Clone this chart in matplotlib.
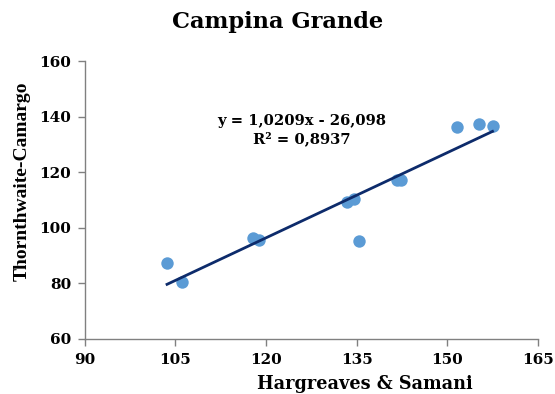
import matplotlib
matplotlib.use("Agg")
import matplotlib.pyplot as plt
import numpy as np

hs = [103.6, 106.1, 117.8, 118.8, 133.4, 134.5, 135.4, 141.7, 142.3, 151.6, 155.2, 157.5]
tc = [87.3, 80.5, 96.3, 95.6, 109.3, 110.2, 95.3, 117.2, 117.3, 136.3, 137.3, 136.6]
slope = 1.0209
intercept = -26.098
r2_text = "R² = 0,8937"
eq_text = "y = 1,0209x - 26,098"
xticks = [90, 105, 120, 135, 150, 165]
yticks = [60, 80, 100, 120, 140, 160]

plt.rcParams['font.family'] = ['DejaVu Serif']
plt.rcParams['font.weight'] = 'bold'

fig = plt.figure(figsize=(5.55, 3.94), dpi=100)
ax = fig.add_axes([0.153, 0.1396, 0.816, 0.7054])

ax.scatter(hs, tc, s=80, color='#5B9BD5', zorder=3, linewidths=0)
xl = np.array([min(hs), max(hs)])
ax.plot(xl, slope * xl + intercept, color='#0D2B6B', lw=2.0, zorder=4)

ax.set_xlim(90, 165)
ax.set_ylim(60, 160)
ax.set_xticks(xticks)
ax.set_yticks(yticks)
for lab in ax.get_xticklabels() + ax.get_yticklabels():
    lab.set_fontweight('bold')
    lab.set_fontsize(11)
ax.tick_params(direction='out', length=5, width=1, color='#808080', pad=5)
for s in ['top', 'right']:
    ax.spines[s].set_visible(False)
for s in ['left', 'bottom']:
    ax.spines[s].set_color('#808080')
    ax.spines[s].set_linewidth(1)

fig.text(0.5, 1 - 22/394, "Campina Grande", ha='center', va='center', fontsize=16.2, fontweight='bold')
fig.text(365/555, 1 - 384/394, "Hargreaves & Samani", ha='center', va='center', fontsize=12.7, fontweight='bold')
fig.text(22/555, 1 - 181/394, "Thornthwaite-Camargo", ha='center', va='center', rotation=90,
         fontsize=14, fontweight='bold', family=['Liberation Serif'])
fig.text(302/555, 1 - 121/394, eq_text, ha='center', va='center', fontsize=10.6, fontweight='bold')
fig.text(302/555, 1 - 139/394, r2_text, ha='center', va='center', fontsize=10.6, fontweight='bold')

fig.savefig("out.png", dpi=100)
